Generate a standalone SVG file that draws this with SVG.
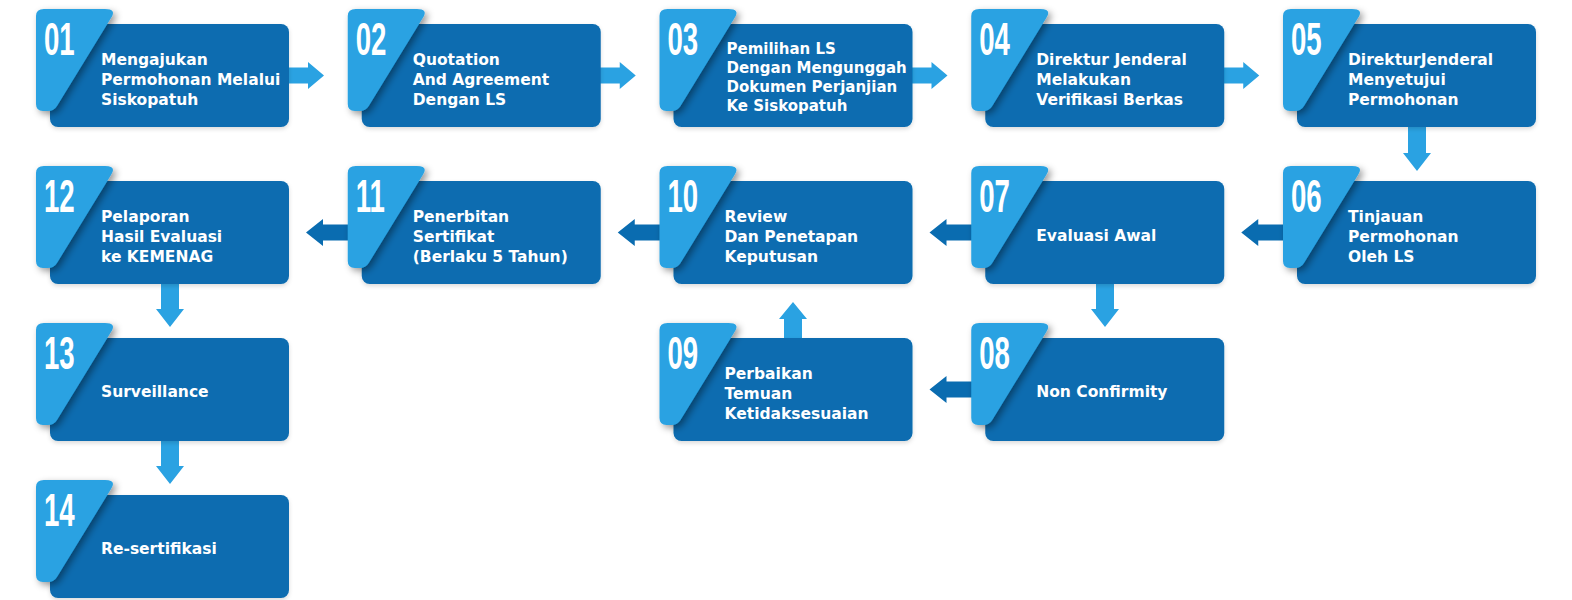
<svg xmlns="http://www.w3.org/2000/svg" width="1572" height="600" viewBox="0 0 1572 600">
<defs>
<style>
.dark{fill:#0a6cb0;}
.light{fill:#2aa2e2;}
.num{font-family:"Liberation Sans",Arial,sans-serif;font-weight:bold;font-size:46px;fill:#ffffff;}
.lbl{font-family:"DejaVu Sans","Noto Sans",sans-serif;font-weight:bold;font-size:15.5px;fill:#ffffff;}
.lbl4{font-size:15px;}
.arrL{fill:#2aa2e2;}
.arrD{fill:#0a6cb0;}
</style>
<filter id="sh" x="-20%" y="-20%" width="150%" height="150%">
<feDropShadow dx="3" dy="3" stdDeviation="3.5" flood-color="#000000" flood-opacity="0.4"/>
</filter>
<filter id="sh2" x="-10%" y="-10%" width="120%" height="130%">
<feDropShadow dx="0" dy="2" stdDeviation="2" flood-color="#000000" flood-opacity="0.15"/>
</filter>
<path id="tab" d="M44 9 H105 Q117 9 111 18 L57 106 Q54 111 48 111 H43 Q36 111 36 104 V16 Q36 9 44 9 Z"/>
</defs>
<rect width="1572" height="600" fill="#ffffff"/>

<g id="connectors">
<path class="arrL" d="M285 67.5 H308 V62 L324 75.5 L308 89 V83.5 H285 Z"/>
<path class="arrL" transform="translate(311.75,0)" d="M285 67.5 H308 V62 L324 75.5 L308 89 V83.5 H285 Z"/>
<path class="arrL" transform="translate(623.5,0)" d="M285 67.5 H308 V62 L324 75.5 L308 89 V83.5 H285 Z"/>
<path class="arrL" transform="translate(935.25,0)" d="M285 67.5 H308 V62 L324 75.5 L308 89 V83.5 H285 Z"/>
<path class="arrL" d="M1408 123 H1426 V153 H1431 L1417 171 L1403 153 H1408 Z"/>
<path class="arrD" transform="translate(935.25,0)" d="M351 224.5 H323 V219 L306 232.5 L323 246 V240.5 H351 Z"/>
<path class="arrD" transform="translate(623.5,0)" d="M351 224.5 H323 V219 L306 232.5 L323 246 V240.5 H351 Z"/>
<path class="arrD" transform="translate(311.75,0)" d="M351 224.5 H323 V219 L306 232.5 L323 246 V240.5 H351 Z"/>
<path class="arrD" d="M351 224.5 H323 V219 L306 232.5 L323 246 V240.5 H351 Z"/>
<path class="arrL" d="M1096 279 H1114 V309 H1119 L1105 327 L1091 309 H1096 Z"/>
<path class="arrD" transform="translate(623.5,157)" d="M351 224.5 H323 V219 L306 232.5 L323 246 V240.5 H351 Z"/>
<path class="arrL" d="M784 342 V319 H779 L793 302 L807 319 H802 V342 Z"/>
<path class="arrL" d="M161 279 H179 V309 H184 L170 327 L156 309 H161 Z"/>
<path class="arrL" d="M161 436 H179 V466 H184 L170 484 L156 466 H161 Z"/>
</g>

<g id="node01" transform="translate(0,0)">
<rect class="dark" x="50" y="24" width="239" height="103" rx="8" filter="url(#sh2)"/>
<use href="#tab" class="light" filter="url(#sh)"/>
<text class="num" transform="translate(44,55) scale(0.6,1)">01</text>
<text class="lbl" x="101"><tspan x="101" y="65">Mengajukan</tspan><tspan x="101" y="85">Permohonan Melalui</tspan><tspan x="101" y="105">Siskopatuh</tspan></text>
</g>

<g id="node02" transform="translate(311.75,0)">
<rect class="dark" x="50" y="24" width="239" height="103" rx="8" filter="url(#sh2)"/>
<use href="#tab" class="light" filter="url(#sh)"/>
<text class="num" transform="translate(44,55) scale(0.6,1)">02</text>
<text class="lbl" x="101"><tspan x="101" y="65">Quotation</tspan><tspan x="101" y="85">And Agreement</tspan><tspan x="101" y="105">Dengan LS</tspan></text>
</g>

<g id="node03" transform="translate(623.5,0)">
<rect class="dark" x="50" y="24" width="239" height="103" rx="8" filter="url(#sh2)"/>
<use href="#tab" class="light" filter="url(#sh)"/>
<text class="num" transform="translate(44,55) scale(0.6,1)">03</text>
<text class="lbl lbl4" x="103"><tspan x="103" y="53.5">Pemilihan LS</tspan><tspan x="103" y="73">Dengan Mengunggah</tspan><tspan x="103" y="92">Dokumen Perjanjian</tspan><tspan x="103" y="111">Ke Siskopatuh</tspan></text>
</g>

<g id="node04" transform="translate(935.25,0)">
<rect class="dark" x="50" y="24" width="239" height="103" rx="8" filter="url(#sh2)"/>
<use href="#tab" class="light" filter="url(#sh)"/>
<text class="num" transform="translate(44,55) scale(0.6,1)">04</text>
<text class="lbl" x="101"><tspan x="101" y="65">Direktur Jenderal</tspan><tspan x="101" y="85">Melakukan</tspan><tspan x="101" y="105">Verifikasi Berkas</tspan></text>
</g>

<g id="node05" transform="translate(1247,0)">
<rect class="dark" x="50" y="24" width="239" height="103" rx="8" filter="url(#sh2)"/>
<use href="#tab" class="light" filter="url(#sh)"/>
<text class="num" transform="translate(44,55) scale(0.6,1)">05</text>
<text class="lbl" x="101"><tspan x="101" y="65">DirekturJenderal</tspan><tspan x="101" y="85">Menyetujui</tspan><tspan x="101" y="105">Permohonan</tspan></text>
</g>

<g id="node06" transform="translate(1247,157)">
<rect class="dark" x="50" y="24" width="239" height="103" rx="8" filter="url(#sh2)"/>
<use href="#tab" class="light" filter="url(#sh)"/>
<text class="num" transform="translate(44,55) scale(0.6,1)">06</text>
<text class="lbl" x="101"><tspan x="101" y="65">Tinjauan</tspan><tspan x="101" y="85">Permohonan</tspan><tspan x="101" y="105">Oleh LS</tspan></text>
</g>

<g id="node07" transform="translate(935.25,157)">
<rect class="dark" x="50" y="24" width="239" height="103" rx="8" filter="url(#sh2)"/>
<use href="#tab" class="light" filter="url(#sh)"/>
<text class="num" transform="translate(44,55) scale(0.6,1)">07</text>
<text class="lbl" x="101" y="84">Evaluasi Awal</text>
</g>

<g id="node08" transform="translate(935.25,314)">
<rect class="dark" x="50" y="24" width="239" height="103" rx="8" filter="url(#sh2)"/>
<use href="#tab" class="light" filter="url(#sh)"/>
<text class="num" transform="translate(44,55) scale(0.6,1)">08</text>
<text class="lbl" x="101" y="83">Non Confirmity</text>
</g>

<g id="node09" transform="translate(623.5,314)">
<rect class="dark" x="50" y="24" width="239" height="103" rx="8" filter="url(#sh2)"/>
<use href="#tab" class="light" filter="url(#sh)"/>
<text class="num" transform="translate(44,55) scale(0.6,1)">09</text>
<text class="lbl" x="101"><tspan x="101" y="65">Perbaikan</tspan><tspan x="101" y="85">Temuan</tspan><tspan x="101" y="105">Ketidaksesuaian</tspan></text>
</g>

<g id="node10" transform="translate(623.5,157)">
<rect class="dark" x="50" y="24" width="239" height="103" rx="8" filter="url(#sh2)"/>
<use href="#tab" class="light" filter="url(#sh)"/>
<text class="num" transform="translate(44,55) scale(0.6,1)">10</text>
<text class="lbl" x="101"><tspan x="101" y="65">Review</tspan><tspan x="101" y="85">Dan Penetapan</tspan><tspan x="101" y="105">Keputusan</tspan></text>
</g>

<g id="node11" transform="translate(311.75,157)">
<rect class="dark" x="50" y="24" width="239" height="103" rx="8" filter="url(#sh2)"/>
<use href="#tab" class="light" filter="url(#sh)"/>
<text class="num" transform="translate(44,55) scale(0.6,1)">11</text>
<text class="lbl" x="101"><tspan x="101" y="65">Penerbitan</tspan><tspan x="101" y="85">Sertifikat</tspan><tspan x="101" y="105">(Berlaku 5 Tahun)</tspan></text>
</g>

<g id="node12" transform="translate(0,157)">
<rect class="dark" x="50" y="24" width="239" height="103" rx="8" filter="url(#sh2)"/>
<use href="#tab" class="light" filter="url(#sh)"/>
<text class="num" transform="translate(44,55) scale(0.6,1)">12</text>
<text class="lbl" x="101"><tspan x="101" y="65">Pelaporan</tspan><tspan x="101" y="85">Hasil Evaluasi</tspan><tspan x="101" y="105">ke KEMENAG</tspan></text>
</g>

<g id="node13" transform="translate(0,314)">
<rect class="dark" x="50" y="24" width="239" height="103" rx="8" filter="url(#sh2)"/>
<use href="#tab" class="light" filter="url(#sh)"/>
<text class="num" transform="translate(44,55) scale(0.6,1)">13</text>
<text class="lbl" x="101" y="83">Surveillance</text>
</g>

<g id="node14" transform="translate(0,471)">
<rect class="dark" x="50" y="24" width="239" height="103" rx="8" filter="url(#sh2)"/>
<use href="#tab" class="light" filter="url(#sh)"/>
<text class="num" transform="translate(44,55) scale(0.6,1)">14</text>
<text class="lbl" x="101" y="83">Re-sertifikasi</text>
</g>
</svg>
